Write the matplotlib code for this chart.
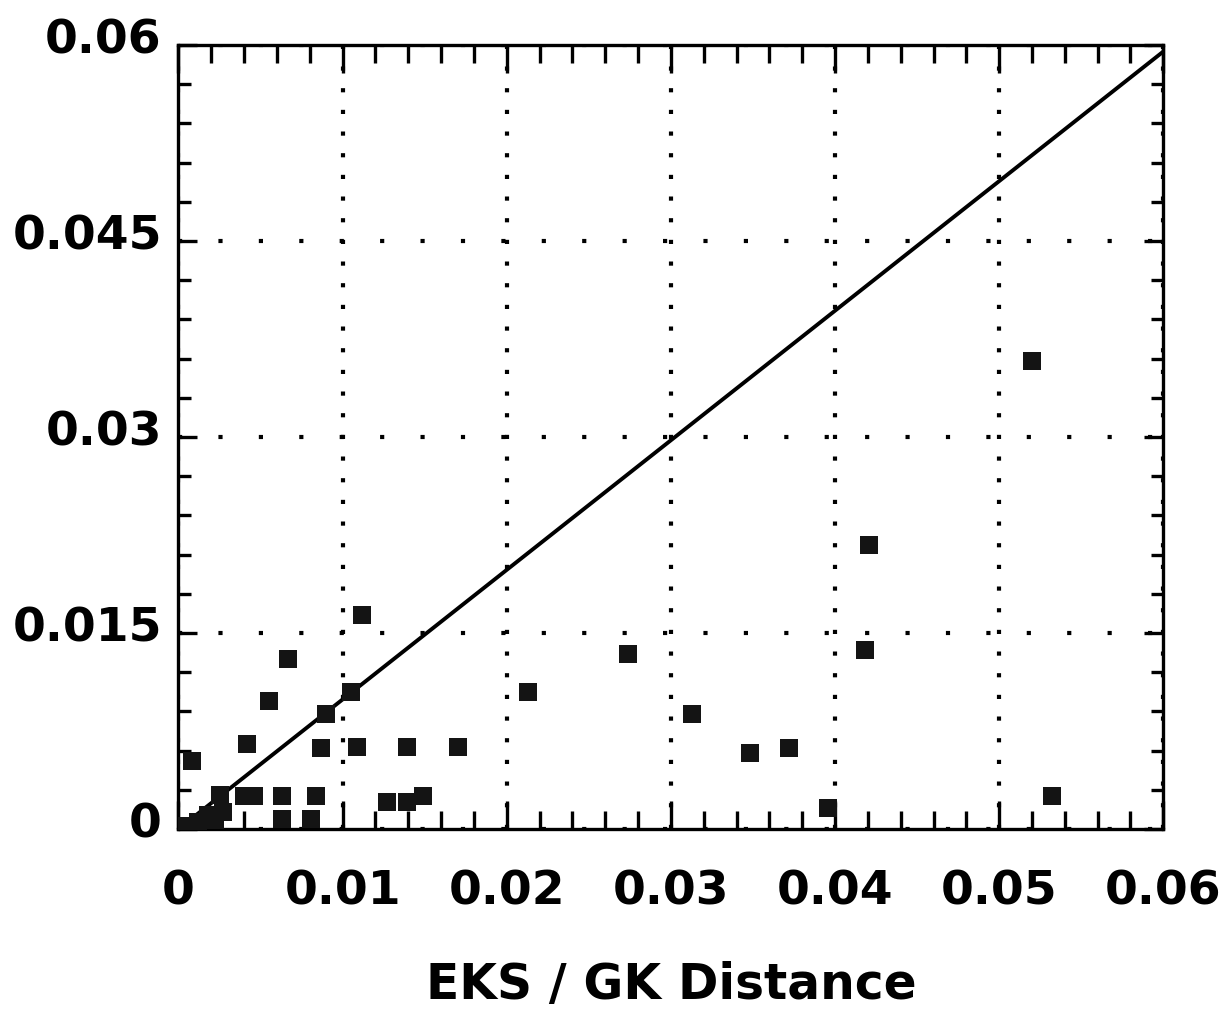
import matplotlib
matplotlib.use("Agg")
import matplotlib.pyplot as plt
import matplotlib.transforms as mtransforms
from matplotlib.ticker import MultipleLocator

# EKS distance (x) vs GK distance (y)
eks = [0.00085, 0.0042, 0.0055, 0.0067, 0.0090, 0.0087, 0.0105, 0.0109,
       0.0112, 0.0139, 0.0170, 0.0213, 0.0274, 0.0313, 0.0348, 0.0372,
       0.0396, 0.0418, 0.0421, 0.0520, 0.0532, 0.0040, 0.0046, 0.0063,
       0.0063, 0.0081, 0.0084, 0.0127, 0.0139, 0.0149, 0.0025, 0.0005,
       0.0012, 0.0018, 0.0022, 0.0027]
gk = [0.0052, 0.0065, 0.0098, 0.0130, 0.0088, 0.0062, 0.0105, 0.0063,
      0.0164, 0.0063, 0.0063, 0.0105, 0.0134, 0.0088, 0.0058, 0.0062,
      0.0016, 0.0137, 0.0217, 0.0358, 0.0025, 0.0025, 0.0025, 0.0025,
      0.0008, 0.0008, 0.0025, 0.0021, 0.0021, 0.0025, 0.0026, 0.0002,
      0.0005, 0.0011, 0.0007, 0.0013]

# reference diagonal
diag_x = [0.0, 0.06]
diag_y = [0.0, 0.0595]

x_ticks = [0, 0.01, 0.02, 0.03, 0.04, 0.05, 0.06]
x_labels = ['0', '0.01', '0.02', '0.03', '0.04', '0.05', '0.06']
y_ticks = [0, 0.015, 0.03, 0.045, 0.06]
y_labels = ['0', '0.015', '0.03', '0.045', '0.06']

plt.rcParams['font.family'] = ['DejaVu Sans']
plt.rcParams['font.weight'] = 'bold'

fig = plt.figure(figsize=(12.31, 10.28), dpi=100)
ax = fig.add_axes([0.145, 0.1936, 0.800, 0.7626])

ax.plot(diag_x, diag_y, color='black', linewidth=2.8, zorder=3)
ax.plot(eks, gk, linestyle='none', marker='s', markersize=12.5,
        color='#141414', markeredgewidth=0, zorder=4)

ax.set_xlim(0, 0.06)
ax.set_ylim(0, 0.06)

ax.set_xticks(x_ticks)
ax.set_xticklabels(x_labels)
ax.set_yticks(y_ticks)
ax.set_yticklabels(y_labels)
ax.xaxis.set_minor_locator(MultipleLocator(0.002))
ax.yaxis.set_minor_locator(MultipleLocator(0.003))

# dotted grid: dots closer together on the vertical lines
ax.xaxis.grid(True, which='major', color='black', linewidth=3,
              linestyle=(0, (1, 4.2)))
ax.yaxis.grid(True, which='major', color='black', linewidth=3,
              linestyle=(0, (1, 8.7)))

for side in ['top', 'bottom', 'left', 'right']:
    ax.spines[side].set_linewidth(2.4)

ax.tick_params(axis='x', which='major', direction='in', length=20, width=2.4,
               top=True, bottom=True, labelsize=34, pad=29)
ax.tick_params(axis='x', which='minor', direction='in', length=13, width=2.4,
               top=True, bottom=True)
ax.tick_params(axis='y', which='major', direction='in', length=14, width=2.4,
               left=True, right=True, labelsize=34, pad=12)
ax.tick_params(axis='y', which='minor', direction='in', length=9, width=2.4,
               left=True, right=True)

# labels on the y axis sit a little above their ticks
shift = mtransforms.ScaledTranslation(0, 9 / 100, fig.dpi_scale_trans)
for lab in ax.get_yticklabels():
    lab.set_transform(lab.get_transform() + shift)
    lab.set_fontweight('bold')
for lab in ax.get_xticklabels():
    lab.set_fontweight('bold')

ax.set_xlabel('EKS / GK Distance', fontsize=35, fontweight='bold', labelpad=34)

fig.savefig('out.png', dpi=100)
